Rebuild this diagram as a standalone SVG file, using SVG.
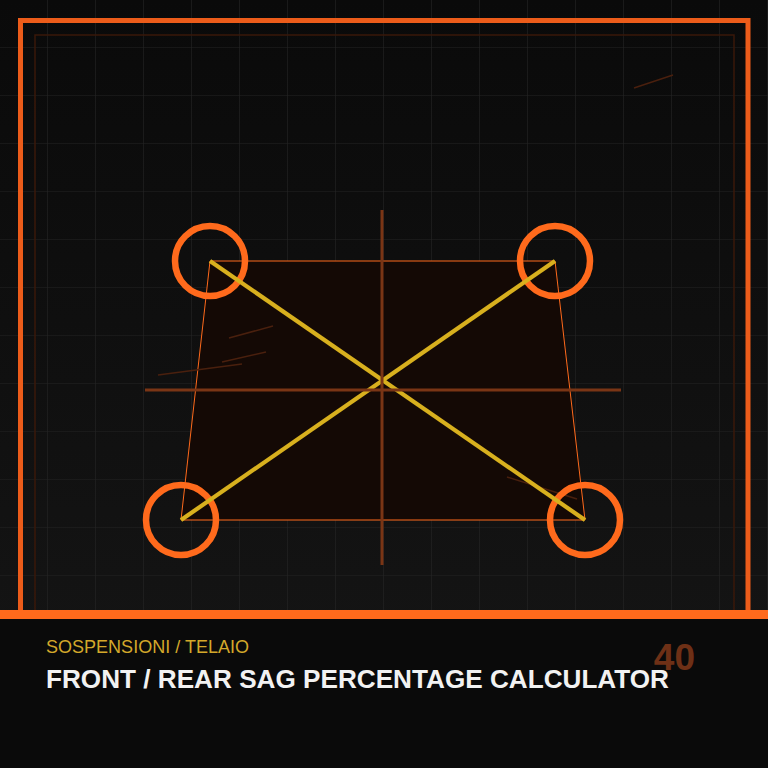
<svg xmlns="http://www.w3.org/2000/svg" width="768" height="768" viewBox="0 0 768 768">
  <defs>
    <linearGradient id="bg" x1="0" y1="0" x2="0" y2="1">
      <stop offset="0" stop-color="#0a0a0a"/>
      <stop offset="1" stop-color="#161616"/>
    </linearGradient>
    <pattern id="grid" width="48" height="48" patternUnits="userSpaceOnUse">
      <path d="M48 0V48M0 48H48" fill="none" stroke="#232323" stroke-width="1.2"/>
    </pattern>
  </defs>
  <style>
    .ring{fill:none;stroke:#ff6a1c;stroke-width:6.5}
    .diag{stroke:#d8b01e;stroke-width:4.2;stroke-linecap:butt}
    .cross{stroke:#7a3515;stroke-width:3}
    .scratch{stroke:#4a200e;stroke-width:1.5}
    .sub{font-family:"Liberation Sans",Arial,sans-serif;font-size:18px;fill:#d4a82a}
    .title{font-family:"Liberation Sans",Arial,sans-serif;font-size:26px;font-weight:bold;fill:#f2f2f2}
    .num{font-family:"Liberation Sans",Arial,sans-serif;font-size:37px;font-weight:bold;fill:#6e3016}
  </style>
  <rect width="768" height="768" fill="url(#bg)"/>
  <rect width="768" height="768" fill="url(#grid)"/>
  <rect x="20.5" y="20.5" width="727.5" height="727.5" fill="none" stroke="#ec5c1a" stroke-width="5"/>
  <rect x="35" y="35" width="699" height="699" fill="none" stroke="#3a180a" stroke-width="1.5"/>
  <polygon id="frame" points="210,261 555,261 585,520 181,520" fill="#140905" stroke="#ff6a1c" stroke-width="1"/>
  <g id="scratches">
    <line class="scratch" x1="634" y1="88" x2="673" y2="75" stroke="#5a2812"/>
    <line class="scratch" x1="229" y1="338" x2="273" y2="326"/>
    <line class="scratch" x1="222" y1="362" x2="266" y2="352"/>
    <line class="scratch" x1="158" y1="375" x2="242" y2="364"/>
    <line class="scratch" x1="507" y1="477" x2="577" y2="499" stroke="#3a1a0a" stroke-width="2"/>
  </g>
  <g id="node-front-left"><circle class="ring" cx="210" cy="261" r="35"/></g>
  <g id="node-front-right"><circle class="ring" cx="555" cy="261" r="35"/></g>
  <g id="node-rear-left"><circle class="ring" cx="181" cy="520" r="35"/></g>
  <g id="node-rear-right"><circle class="ring" cx="585" cy="520" r="35"/></g>
  <g id="connectors">
    <line class="diag" x1="210" y1="261" x2="585" y2="520"/>
    <line class="diag" x1="555" y1="261" x2="181" y2="520"/>
    <line class="cross" x1="382" y1="210" x2="382" y2="565"/>
    <line class="cross" x1="145" y1="390" x2="621" y2="390"/>
  </g>
  <rect x="0" y="610" width="768" height="9" fill="#ff6a1c"/>
  <rect x="0" y="619" width="768" height="149" fill="#0a0a0a"/>
  <text class="sub" x="46" y="653" textLength="203" lengthAdjust="spacingAndGlyphs">SOSPENSIONI / TELAIO</text>
  <text class="num" x="695" y="670" text-anchor="end">40</text>
  <text class="title" x="46" y="688" textLength="623" lengthAdjust="spacingAndGlyphs">FRONT / REAR SAG PERCENTAGE CALCULATOR</text>
</svg>
